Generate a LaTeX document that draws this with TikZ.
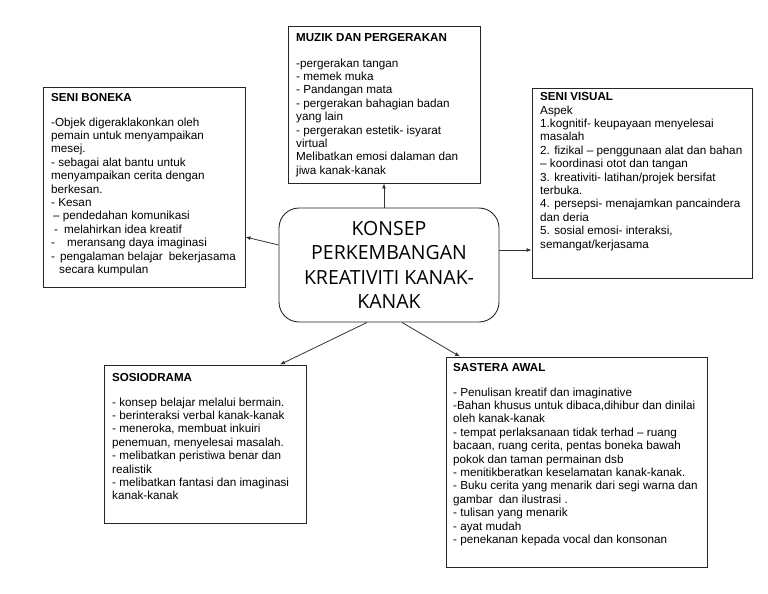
\documentclass[tikz,border=0pt]{standalone}
\usepackage{fontspec}
\setmainfont{Liberation Sans}
\newfontfamily\centerfont{Open Sans}
\usetikzlibrary{arrows.meta,calc}
\begin{document}
\begin{tikzpicture}[x=1pt,y=-1pt,
  box/.style={draw=black!85, line width=0.9pt, inner sep=0pt},
  ttl/.style={anchor=west, inner sep=0pt, font=\fontsize{11.6}{13.4}\selectfont\bfseries},
  body/.style={anchor=north west, inner sep=0pt, align=left, font=\fontsize{11.7}{13.4}\selectfont},
  conn/.style={draw=black!80, line width=0.8pt, -{Latex[length=5pt,width=4pt]}},
]
\useasboundingbox (0,0) rectangle (768,594);

% boxes
\node[box, minimum width=192pt, minimum height=157pt] (muzik) at (384,104.5) {};
\node[box, minimum width=202pt, minimum height=200pt] (boneka) at (144,187) {};
\node[box, minimum width=220pt, minimum height=190pt] (visual) at (642,183) {};
\node[box, minimum width=202pt, minimum height=158pt] (sosio) at (205,444) {};
\node[box, minimum width=261pt, minimum height=210pt] (sastera) at (576.5,462) {};
\node[box, rounded corners=20pt, minimum width=220pt, minimum height=114pt,
      align=center, font=\centerfont\fontsize{19.5}{24.5}\selectfont] (konsep) at (389,265)
  {KONSEP\\PERKEMBANGAN\\KREATIVITI KANAK-\\KANAK};

% MUZIK
\node[ttl] (muzik-t) at (296,38) {MUZIK DAN PERGERAKAN};
\node[body] (muzik-b) at (296,58.5) {-pergerakan tangan\\
- memek muka\\
- Pandangan mata\\
- pergerakan bahagian badan\\
yang lain\\
- pergerakan estetik- isyarat\\
virtual\\
Melibatkan emosi dalaman dan\\
jiwa kanak-kanak};

% SENI BONEKA
\node[ttl] (boneka-t) at (51,98) {SENI BONEKA};
\node[body] (boneka-b) at (51,117.5) {-Objek digeraklakonkan oleh\\
pemain untuk menyampaikan\\
mesej.\\
- sebagai alat bantu untuk\\
menyampaikan cerita dengan\\
berkesan.\\
- Kesan\\
\hspace*{2pt}– pendedahan komunikasi\\
\hspace*{3pt}-\hspace*{6pt}melahirkan idea kreatif\\
-\hspace*{12pt}meransang daya imaginasi\\
-\hspace*{5pt}pengalaman belajar\hspace*{6pt}bekerjasama\\
\hspace*{8pt}secara kumpulan};

% SENI VISUAL
\node[ttl] (visual-t) at (540,97) {SENI VISUAL};
\node[body] (visual-b) at (540,105.5) {Aspek\\
1.kognitif- keupayaan menyelesai\\
masalah\\
2. fizikal – penggunaan alat dan bahan\\
– koordinasi otot dan tangan\\
3. kreativiti- latihan/projek bersifat\\
terbuka.\\
4. persepsi- menajamkan pancaindera\\
dan deria\\
5. sosial emosi- interaksi,\\
semangat/kerjasama};

% SOSIODRAMA
\node[ttl] (sosio-t) at (112,378) {SOSIODRAMA};
\node[body] (sosio-b) at (112,397.5) {- konsep belajar melalui bermain.\\
- berinteraksi verbal kanak-kanak\\
- meneroka, membuat inkuiri\\
penemuan, menyelesai masalah.\\
- melibatkan peristiwa benar dan\\
realistik\\
- melibatkan fantasi dan imaginasi\\
kanak-kanak};

% SASTERA AWAL
\node[ttl] (sastera-t) at (453,368) {SASTERA AWAL};
\node[body] (sastera-b) at (453,387.5) {- Penulisan kreatif dan imaginative\\
-Bahan khusus untuk dibaca,dihibur dan dinilai\\
oleh kanak-kanak\\
- tempat perlaksanaan tidak terhad – ruang\\
bacaan, ruang cerita, pentas boneka bawah\\
pokok dan taman permainan dsb\\
- menitikberatkan keselamatan kanak-kanak.\\
- Buku cerita yang menarik dari segi warna dan\\
gambar\hspace*{6pt}dan ilustrasi .\\
- tulisan yang menarik\\
- ayat mudah\\
- penekanan kepada vocal dan konsonan};

% connectors
\draw[conn] (konsep.north -| muzik.south) -- (muzik.south);
\draw[conn] ([yshift=20pt]konsep.west) -- ([yshift=-50pt]boneka.east);
\draw[conn] ([yshift=15pt]konsep.east) -- ([yshift=-67pt]visual.west);
\draw[conn] ([xshift=-22pt]konsep.south) -- ([xshift=75pt]sosio.north);
\draw[conn] ([xshift=13pt]konsep.south) -- ([xshift=-116.5pt]sastera.north);
\end{tikzpicture}
\end{document}
